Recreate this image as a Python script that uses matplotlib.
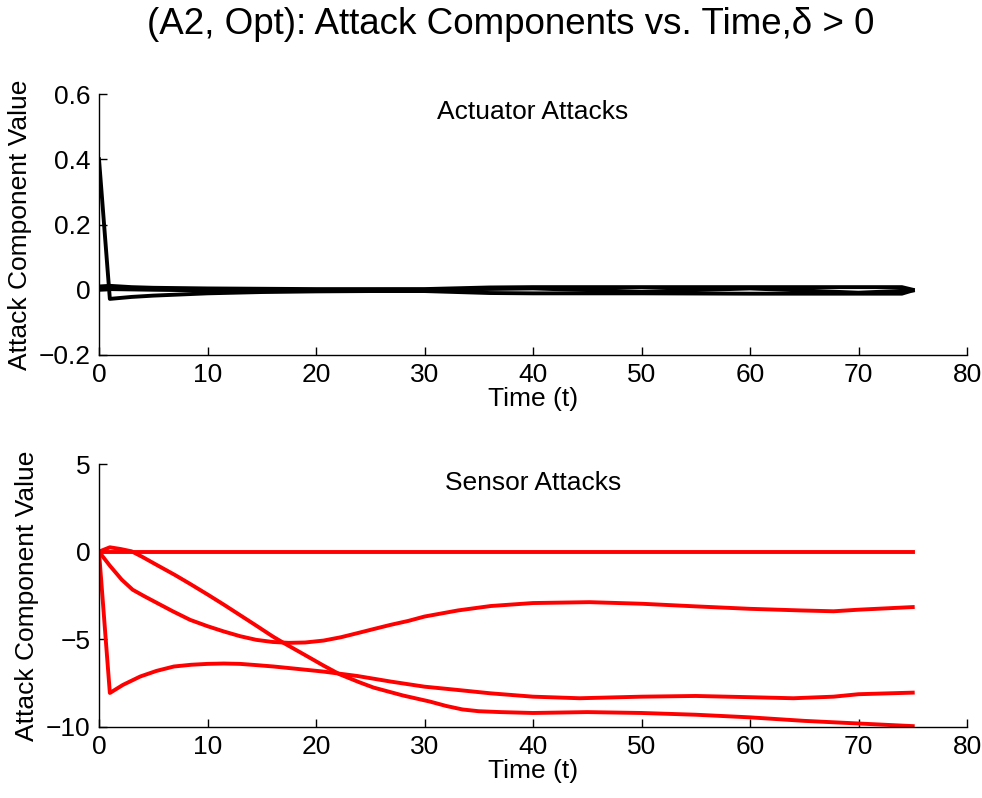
import numpy as np
import matplotlib
matplotlib.use("Agg")
import matplotlib.pyplot as plt

plt.rcParams['font.family'] = ['Liberation Sans', 'DejaVu Sans']
plt.rcParams['axes.unicode_minus'] = True

# Actuator attacks (black)
act_t1 = [0, 1, 3, 5, 10, 15, 20, 25, 30, 36, 40, 50, 60, 70, 74, 75]
act_a1 = [0.4, -0.028, -0.022, -0.018, -0.011, -0.007, -0.005, -0.004, -0.004, -0.010, -0.011, -0.011, -0.012, -0.012, -0.012, -0.002]
act_t2 = [0, 1, 3, 5, 10, 20, 30, 36, 40, 50, 60, 70, 74, 75]
act_a2 = [0.01, 0.012, 0.008, 0.006, 0.004, 0.002, 0.002, 0.007, 0.008, 0.008, 0.008, 0.008, 0.008, 0.0]
act_t3 = [0, 1, 5, 10, 20, 30, 40, 50, 60, 70, 75]
act_a3 = [0.0, 0.002, 0.0, -0.002, -0.001, 0.0, 0.004, -0.006, 0.004, -0.009, -0.002]

# Sensor attacks (red)
sen_t0 = [0, 75]
sen_s0 = [0, 0]
sen_t1 = [0, 1, 2, 3, 4, 5.3, 7, 8.4, 10, 11.5, 13, 14.5, 16, 17, 19, 20.7, 22.2, 24, 25.3, 28, 30.5, 32, 33.5, 35, 37,
          40, 45, 50, 55, 60, 65, 70, 75]
sen_s1 = [0, 0.25, 0.15, 0.02, -0.3, -0.75, -1.33, -1.84, -2.44, -3.02, -3.62, -4.22, -4.83, -5.2, -5.9, -6.5, -7.0, -7.45,
          -7.75, -8.2, -8.55, -8.8, -9.0, -9.1, -9.15, -9.2, -9.15, -9.2, -9.3, -9.45, -9.65, -9.8, -9.95]
sen_t2 = [0, 1, 2.1, 3.1, 4.2, 5.3, 6.8, 8.4, 10, 11.5, 13, 14.5, 16, 17.5, 19, 20.7, 22.3, 23.8, 25.4, 26.9, 28.5,
          30, 33.1, 36.1, 40, 45.2, 50, 55, 60, 64.6, 67.7, 70, 75]
sen_s2 = [0, -0.8, -1.6, -2.17, -2.55, -2.91, -3.4, -3.89, -4.25, -4.55, -4.82, -5.03, -5.15, -5.2, -5.18, -5.07, -4.88,
          -4.65, -4.4, -4.17, -3.95, -3.7, -3.35, -3.1, -2.93, -2.88, -2.97, -3.12, -3.26, -3.35, -3.4, -3.31, -3.16]
sen_t3 = [0, 1, 2.2, 3.8, 5.3, 6.9, 8.5, 10, 11.5, 13, 14.5, 16.1, 18.5, 20.7, 23.8, 26.9, 30, 33.1, 36.1, 40, 44.3,
          50, 55, 60, 64, 67.7, 70, 75]
sen_s3 = [0, -8.06, -7.6, -7.12, -6.8, -6.55, -6.45, -6.4, -6.38, -6.4, -6.47, -6.55, -6.7, -6.84, -7.09, -7.41, -7.7,
          -7.89, -8.08, -8.27, -8.36, -8.27, -8.23, -8.3, -8.36, -8.27, -8.13, -8.04]

W, H = 982, 798
fig = plt.figure(figsize=(W / 100, H / 100), dpi=100)

def make_ax(top_px, bot_px):
    left, right = 99, 967
    return fig.add_axes([left / W, 1 - bot_px / H, (right - left) / W, (bot_px - top_px) / H])

ax1 = make_ax(94, 355)
ax2 = make_ax(464, 727)

lw = 2.8
for t, a in [(act_t1, act_a1), (act_t2, act_a2), (act_t3, act_a3)]:
    ax1.plot(t, a, color='black', lw=lw, solid_joinstyle='round')
for t, s in [(sen_t0, sen_s0), (sen_t1, sen_s1), (sen_t2, sen_s2), (sen_t3, sen_s3)]:
    ax2.plot(t, s, color='#ff0000', lw=lw, solid_joinstyle='round')

ax1.set_xlim(0, 80)
ax1.set_ylim(-0.2, 0.6)
ax1.set_yticks([-0.2, 0, 0.2, 0.4, 0.6])
ax1.set_yticklabels(['\u22120.2', '0', '0.2', '0.4', '0.6'])
ax2.set_xlim(0, 80)
ax2.set_ylim(-10, 5)
ax2.set_yticks([-10, -5, 0, 5])
ax2.set_yticklabels(['\u221210', '\u22125', '0', '5'])

fs = 19
for ax in (ax1, ax2):
    ax.set_xticks(range(0, 81, 10))
    ax.spines['top'].set_visible(False)
    ax.spines['right'].set_visible(False)
    ax.spines['left'].set_linewidth(1.0)
    ax.spines['bottom'].set_linewidth(1.0)
    ax.tick_params(direction='in', length=6, width=1.0, labelsize=fs, pad=6)
    ax.set_xlabel('Time (t)', fontsize=fs, labelpad=0)
    ax.set_ylabel('Attack Component Value', fontsize=fs, labelpad=5)

ax1.text(40, 0.545, 'Actuator Attacks', ha='center', va='center', fontsize=fs)
ax2.text(40, 3.9, 'Sensor Attacks', ha='center', va='center', fontsize=fs)

fig.text(511 / W, 1 - 25 / H, '(A2, Opt): Attack Components vs. Time,\u03b4 > 0',
         ha='center', va='center', fontsize=26.5)

fig.savefig('out.png', dpi=100)
